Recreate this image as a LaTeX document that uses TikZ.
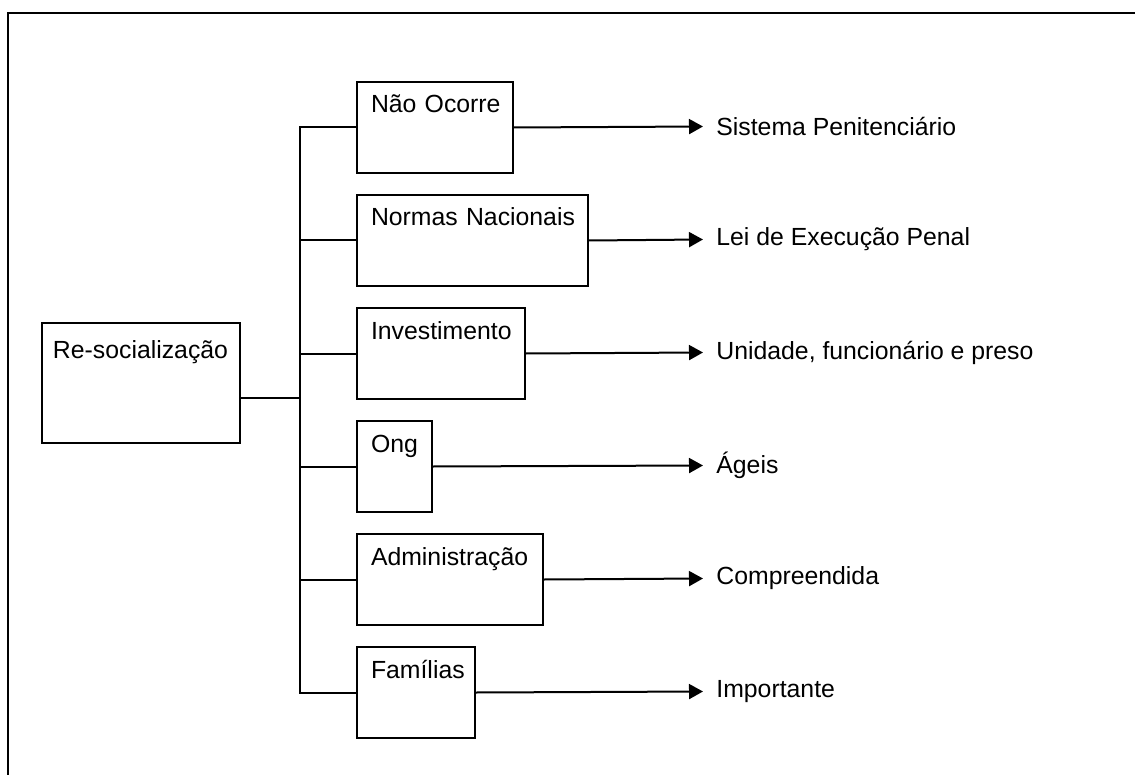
\documentclass[tikz,border=0pt]{standalone}
\usepackage{fontspec}
\setmainfont{Liberation Sans}
\usetikzlibrary{arrows.meta}

\begin{document}
\begin{tikzpicture}[
    x=0.5pt, y=-0.5pt,
    every node/.style={font=\fontsize{12.4}{14.8}\selectfont},
    box/.style={draw, line width=1pt, anchor=north west, inner xsep=7pt, inner ysep=0pt,
        align=left, text height=15.5pt, text depth=30pt},
    target/.style={anchor=west, inner xsep=6.5pt, inner ysep=0pt},
    conn/.style={line width=1pt},
    arrow/.style={line width=1pt, -{Triangle[length=7pt, width=7.5pt]}}
]
    \useasboundingbox (0,0) rectangle (1135,775);
    % Frame
    \draw[conn] (8,775) -- (8,13) -- (1135,13);
    % Root box
    \node[box, text width=88pt, inner xsep=5.5pt, text height=17.5pt, text depth=42.5pt]
        (root) at (41,322) {\mbox{Re-socialização}};
    \coordinate (hub) at (300,398);
    % Branches and results
    \foreach \i/\w/\lab/\res in {
        1/64/{Não Ocorre}/{Sistema Penitenciário},
        2/101.5/{Normas Nacionais}/{Lei de Execução Penal},
        3/70/{Investimento}/{Unidade, funcionário e preso},
        4/23.5/{Ong}/{Ágeis},
        5/79/{Administração}/{Compreendida},
        6/45/{Famílias}/{Importante}} {
        \pgfmathsetmacro\ytop{81+(\i-1)*113}
        \node[box, text width=\w pt] (b\i) at (356,\ytop) {\mbox{\lab}};
        \node[target] (t\i) at (703,\ytop+45.5) {\res};
        \draw[conn] (hub) |- (b\i.west);
        \draw[arrow] (b\i.east) -- (t\i.west);
    }
    \draw[conn] (root.east |- hub) -- (hub);
\end{tikzpicture}
\end{document}
